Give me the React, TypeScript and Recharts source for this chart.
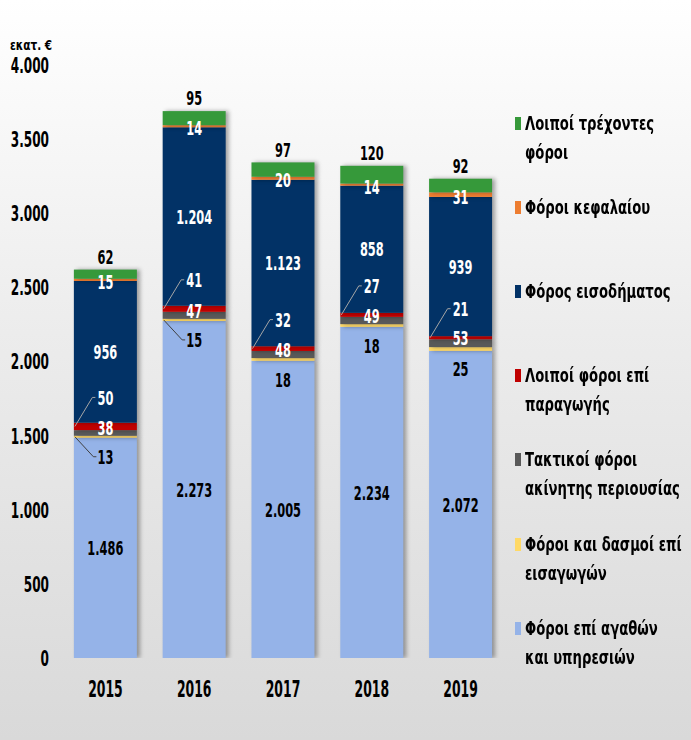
import React from 'react';
import { BarChart, Bar, XAxis, YAxis, Legend, LabelList } from 'recharts';

const years = ['2015', '2016', '2017', '2018', '2019'];
const goodsServices = [1486, 2273, 2005, 2234, 2072];
const importDuties = [13, 15, 18, 18, 25];
const propertyTaxes = [38, 47, 48, 49, 53];
const otherProduction = [50, 41, 32, 27, 21];
const incomeTax = [956, 1204, 1123, 858, 939];
const capitalTaxes = [15, 14, 20, 14, 31];
const otherCurrent = [62, 95, 97, 120, 92];
const yTicks = [0, 500, 1000, 1500, 2000, 2500, 3000, 3500, 4000];
const unitLabel = 'εκατ. €';

const FONT = "'DejaVu Sans', Verdana, sans-serif";

type Kind = 'center' | 'below' | 'gray' | 'above' | 'onseg' | 'top';

const series = [
  { key: 'goods', lines: ['Φόροι επί αγαθών', 'και υπηρεσιών'], values: goodsServices, color: '#95B3E8', kind: 'center' as Kind, text: '#000' },
  { key: 'imports', lines: ['Φόροι και δασμοί επί', 'εισαγωγών'], values: importDuties, color: '#FFD966', kind: 'below' as Kind, text: '#000' },
  { key: 'property', lines: ['Τακτικοί φόροι', 'ακίνητης περιουσίας'], values: propertyTaxes, color: '#595959', kind: 'gray' as Kind, text: '#fff' },
  { key: 'otherProd', lines: ['Λοιποί φόροι επί', 'παραγωγής'], values: otherProduction, color: '#C00000', kind: 'above' as Kind, text: '#fff' },
  { key: 'income', lines: ['Φόρος εισοδήματος'], values: incomeTax, color: '#023266', kind: 'center' as Kind, text: '#fff' },
  { key: 'capital', lines: ['Φόροι κεφαλαίου'], values: capitalTaxes, color: '#ED7D31', kind: 'onseg' as Kind, text: '#fff' },
  { key: 'otherCurrent', lines: ['Λοιποί τρέχοντες', 'φόροι'], values: otherCurrent, color: '#36993A', kind: 'top' as Kind, text: '#000' },
];

const yellowLeader = [true, true, false, false, false];

const data = years.map((year, i) => {
  const row: Record<string, any> = { year };
  series.forEach((s) => {
    row[s.key] = s.values[i];
  });
  return row;
});

const fmt = (v: number) => {
  const s = String(Math.round(v));
  return s.replace(/\B(?=(\d{3})+(?!\d))/g, '.');
};

// condensed bold text (horizontally compressed)
const CText = ({
  x,
  y,
  anchor = 'middle',
  fill = '#000',
  size = 20,
  sx = 0.57,
  children,
}: {
  x: number;
  y: number;
  anchor?: 'start' | 'middle' | 'end';
  fill?: string;
  size?: number;
  sx?: number;
  children: any;
}) => (
  <text
    transform={`translate(${x},${y}) scale(${sx},1)`}
    x={0}
    y={0}
    dy="0.36em"
    textAnchor={anchor}
    fill={fill}
    fontSize={size}
    fontFamily={FONT}
    fontWeight={700}
  >
    {children}
  </text>
);

function makeLabel(kind: Kind, color: string) {
  return (props: any) => {
    const vb = props.viewBox && props.viewBox.width !== undefined ? props.viewBox : props;
    const x = Number(vb.x);
    const y = Number(vb.y);
    const w = Number(vb.width);
    const h = Number(vb.height);
    const idx = props.index;
    const cx = x + w / 2;
    const segY = y + h / 2;
    const v = fmt(Number(props.value));
    if (kind === 'center') {
      return <CText x={cx} y={segY} fill={color}>{v}</CText>;
    }
    if (kind === 'gray') {
      return <CText x={cx} y={segY - 5} fill={color}>{v}</CText>;
    }
    if (kind === 'onseg') {
      return <CText x={cx} y={segY + 2} fill={color}>{v}</CText>;
    }
    if (kind === 'top') {
      return <CText x={cx} y={y - 13} fill={color}>{v}</CText>;
    }
    if (kind === 'above') {
      const ly = segY - 29;
      return (
        <g>
          <polyline
            points={`${x + 1},${segY} ${cx - 13},${ly} ${cx - 10},${ly}`}
            fill="none"
            stroke="#A6A6A6"
            strokeWidth={1}
          />
          <CText x={cx} y={ly} fill={color}>{v}</CText>
        </g>
      );
    }
    const ly = segY + 20;
    return (
      <g>
        {yellowLeader[idx] ? (
          <polyline
            points={`${x + 1},${segY} ${cx - 12},${ly} ${cx - 9},${ly}`}
            fill="none"
            stroke="#404040"
            strokeWidth={1}
          />
        ) : null}
        <CText x={cx} y={ly} fill={color}>{v}</CText>
      </g>
    );
  };
}

const shadowShape = (p: any) => {
  const h = Math.max(0, Number(p.height));
  return (
    <rect
      x={p.x}
      y={p.y}
      width={p.width}
      height={h}
      fill={p.fill}
      style={{ filter: 'drop-shadow(3px 0px 2px rgba(0,0,0,0.35))' }}
    />
  );
};

const YTick = (props: any) => {
  const { x, y, payload } = props;
  return (
    <CText x={x - 12} y={y} anchor="end" size={22} sx={0.55}>
      {fmt(payload.value)}
    </CText>
  );
};

const XTick = (props: any) => {
  const { x, y, payload } = props;
  return (
    <CText x={x} y={y + 31} size={23} sx={0.54}>
      {payload.value}
    </CText>
  );
};

const UnitLabel = (props: any) => {
  const vb = props.viewBox || { x: 0, y: 65 };
  return (
    <CText x={vb.x + 10} y={vb.y - 20} anchor="start" size={14} sx={0.75}>
      {unitLabel}
    </CText>
  );
};

const LegendContent = () => {
  const items = [...series].reverse();
  return (
    <div style={{ position: 'relative', width: 178, height: 740 }}>
      {items.map((s, k) => {
        const centerY = 123 + k * 84.2;
        return (
          <div
            key={s.key}
            style={{
              position: 'absolute',
              left: 2,
              top: centerY - 14.5,
              width: 176,
            }}
          >
            <div
              style={{
                position: 'absolute',
                left: 0,
                top: 8,
                width: 6,
                height: 13,
                background: s.color,
              }}
            />
            <div
              style={{
                position: 'absolute',
                left: 10,
                top: 0,
                fontFamily: FONT,
                fontWeight: 700,
                fontSize: 20,
                lineHeight: '29px',
                color: '#000',
                whiteSpace: 'nowrap',
                transform: 'scaleX(0.66)',
                transformOrigin: '0 0',
              }}
            >
              {s.lines.map((l, j) => (
                <div key={j}>{l}</div>
              ))}
            </div>
          </div>
        );
      })}
    </div>
  );
};

export default function App() {
  return (
    <div
      style={{
        position: 'absolute',
        left: 0,
        top: 0,
        width: 691,
        height: 740,
        background: 'linear-gradient(to bottom, #ffffff 0%, #ececec 45%, #d9d9d9 100%)',
      }}
    >
      <BarChart
        width={691}
        height={740}
        data={data}
        margin={{ top: 65, right: 186, bottom: 52, left: 0 }}
        barCategoryGap="14.5%"
      >
        <XAxis dataKey="year" height={30} axisLine={false} tickLine={false} tickSize={0} tickMargin={0} tick={<XTick />} />
        <YAxis
          width={61}
          domain={[0, 4000]}
          ticks={yTicks}
          axisLine={false}
          tickLine={false}
          tickSize={0}
          tickMargin={0}
          tick={<YTick />}
          label={<UnitLabel />}
          allowDataOverflow
        />
        <Legend
          layout="horizontal"
          verticalAlign="middle"
          align="center"
          content={<LegendContent />}
          wrapperStyle={{ position: 'absolute', left: 513, top: 0, width: 178, height: 740 }}
        />
        {series.map((s) => (
          <Bar
            key={s.key}
            dataKey={s.key}
            stackId="a"
            fill={s.color}
            isAnimationActive={false}
            shape={shadowShape}
          >
            <LabelList dataKey={s.key} content={makeLabel(s.kind, s.text)} />
          </Bar>
        ))}
      </BarChart>
    </div>
  );
}
